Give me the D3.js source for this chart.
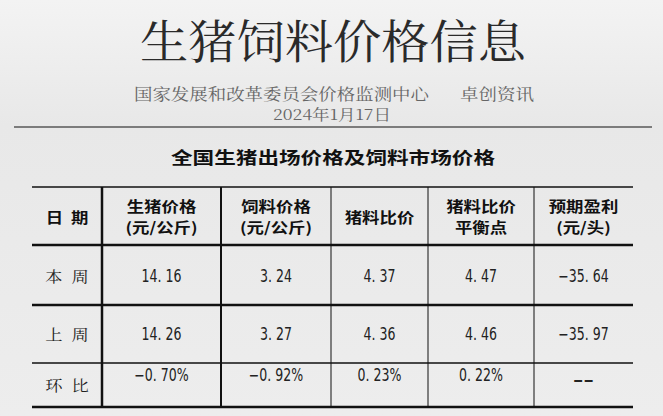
<!DOCTYPE html>
<html><head><meta charset="utf-8">
<script src="https://cdn.jsdelivr.net/npm/d3@7"></script>
<style>body{margin:0;background:#ececec}</style>
</head><body>
<svg id="c" width="663" height="416"></svg>
<script>
// table data
var headers = [['日  期'], ['生猪价格', '(元/公斤)'], ['饲料价格', '(元/公斤)'], ['猪料比价'], ['猪料比价', '平衡点'], ['预期盈利', '(元/头)']];
var rowLabels = ['本  周', '上  周', '环  比'];
var thisWeek = ['14.16', '3.24', '4.37', '4.47', '-35.64'];
var lastWeek = ['14.26', '3.27', '4.36', '4.46', '-35.97'];
var change = ['-0.70%', '-0.92%', '0.23%', '0.22%', '--'];
var rows = [thisWeek, lastWeek, change];

var svg = d3.select('#c');
var defs = svg.append('defs');
var g1 = defs.append('linearGradient').attr('id', 'bg').attr('x1', 0).attr('y1', 0).attr('x2', 0).attr('y2', 1);
g1.append('stop').attr('offset', 0).attr('stop-color', '#f3f3f3');
g1.append('stop').attr('offset', 0.3).attr('stop-color', '#e8e8e8');
g1.append('stop').attr('offset', 1).attr('stop-color', '#ededed');
svg.append('rect').attr('width', 663).attr('height', 416).attr('fill', 'url(#bg)');

var serif = '"Noto Serif CJK SC","Noto Sans CJK SC",serif';
var sans = '"Noto Sans CJK SC",sans-serif';

// stretch text horizontally like the reference
function stretch(sel, k) {
  sel.each(function() {
    var w = this.getComputedTextLength();
    d3.select(this).attr('textLength', w * k).attr('lengthAdjust', 'spacingAndGlyphs');
  });
  return sel;
}
function fit(sel, w) { return sel.attr('textLength', w).attr('lengthAdjust', 'spacingAndGlyphs'); }

fit(svg.append('text').attr('x', 140).attr('y', 58)
  .attr('font-family', serif).attr('font-size', 46).attr('fill', '#2a2a2a')
  .text('生猪饲料价格信息'), 386);
fit(svg.append('text').attr('x', 134).attr('y', 100)
  .attr('font-family', serif).attr('font-size', 16).attr('fill', '#666')
  .text('国家发展和改革委员会价格监测中心'), 295);
fit(svg.append('text').attr('x', 460).attr('y', 100)
  .attr('font-family', serif).attr('font-size', 16).attr('fill', '#666')
  .text('卓创资讯'), 74);
fit(svg.append('text').attr('x', 273).attr('y', 120)
  .attr('font-family', serif).attr('font-size', 15).attr('fill', '#666')
  .text('2024年1月17日'), 118);
svg.append('line').attr('x1', 14).attr('x2', 652).attr('y1', 127).attr('y2', 127).attr('stroke', '#111').attr('stroke-width', 1.2);
fit(svg.append('text').attr('x', 171).attr('y', 164)
  .attr('font-family', sans).attr('font-weight', 'bold').attr('font-size', 17).attr('fill', '#111')
  .text('全国生猪出场价格及饲料市场价格'), 324);

var colEdges = [32, 102, 221, 331, 428, 534, 633];
var rowEdges = [187, 245, 305, 363, 407];
var hW = [1.5, 2.5, 2.5, 1.5, 2.5];
var vW = [2.5, 2, 1, 1, 1];
var colX = function(i) { return colEdges[i]; };

var t = svg.append('g');
t.selectAll('line.h').data(rowEdges).enter().append('line')
  .attr('x1', 32).attr('x2', 633).attr('y1', d => d).attr('y2', d => d)
  .attr('stroke', '#111').attr('stroke-width', (d, i) => hW[i]);
t.selectAll('line.v').data(colEdges.slice(1, 6)).enter().append('line')
  .attr('x1', d => d).attr('x2', d => d).attr('y1', 187).attr('y2', 407)
  .attr('stroke', '#111').attr('stroke-width', (d, i) => vW[i]);

headers.forEach(function(h, i) {
  var cx = (colX(i) + colX(i + 1)) / 2;
  h.forEach(function(line, j) {
    var y = h.length === 1 ? 223 : (j === 0 ? 212 : 233);
    stretch(t.append('text').attr('x', cx).attr('y', y)
      .attr('text-anchor', 'middle').attr('font-family', sans).attr('font-weight', 'bold')
      .attr('font-size', 14.5).attr('fill', '#111').attr('xml:space', 'preserve').text(line), 1.2);
  });
});
var labelY = [282, 340, 391];
rowLabels.forEach(function(lab, r) {
  stretch(t.append('text').attr('x', 67).attr('y', labelY[r]).attr('text-anchor', 'middle')
    .attr('xml:space', 'preserve')
    .attr('font-family', serif).attr('font-size', 15).attr('fill', '#222').text(lab), 1.15);
  rows[r].forEach(function(v, c) {
    var cx = (colX(c + 1) + colX(c + 2)) / 2;
    var y = r === 2 ? (v === '--' ? 386 : 381) : labelY[r];
    var s = v === '--' ? '−−' : v.replace(/^-(?=\d)/, '−').replace('.', '. ');
    stretch(t.append('text').attr('x', cx).attr('y', y).attr('text-anchor', 'middle')
      .attr('font-family', '"Liberation Sans Narrow","DejaVu Sans Condensed",sans-serif')
      .attr('font-weight', v === '--' ? 'bold' : 'normal')
      .attr('font-size', 17).attr('fill', '#222').text(s), 0.82);
  });
});
</script>
</body></html>
